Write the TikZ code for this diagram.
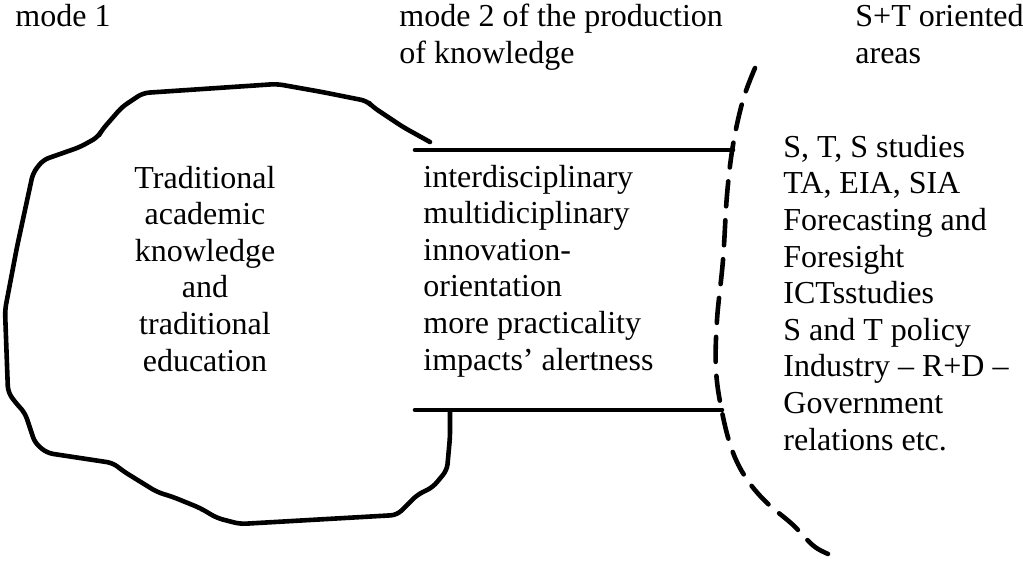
\documentclass[tikz,border=0pt]{standalone}
\usepackage{fontspec}
\setmainfont{Liberation Serif}
\usetikzlibrary{positioning}
\tikzset{
  txt/.style={inner sep=0pt, align=left, anchor=base west, font=\fontsize{16}{18.3}\selectfont},
  ctxt/.style={txt, align=center, anchor=base},
  bar/.style={line width=2.3pt, line cap=round, line join=round},
  border/.style={bar, dash pattern=on 12.5pt off 7pt}
}

\begin{document}
\begin{tikzpicture}[x=0.5pt,y=-0.5pt]
  \useasboundingbox (0,0) rectangle (1023,562);
  % headings (base = last line)
  \node[txt] (mone) at (15,26) {mode 1};
  \node[txt] (mtwo) at (399,63) {mode 2 of the production\\of knowledge};
  \node[txt] (areas) at (855,63) {S+T oriented\\areas};
  % mode 1 blob
  \coordinate (bstart) at (430,142);
  \coordinate (bend) at (450,412);
  \draw[bar, rounded corners=3pt] (bstart) -- (403,127) -- (373,107) -- (367,101) -- (322,92) -- (277,84)
    -- (143,93) -- (122,107) -- (102,130) -- (98,137) -- (80,147) -- (43,160) -- (33,173)
    -- (17,247) -- (5,310) -- (8,392) -- (15,402) -- (25,413) -- (35,443) -- (47,453)
    -- (113,463) -- (123,471) -- (157,492) -- (173,497) -- (200,508) -- (217,518) -- (240,524)
    -- (397,515) -- (405,507) -- (417,495) -- (433,487) -- (447,470) -- (450,437) -- (bend);
  \node[ctxt] (trad) at (205,371) {Traditional\\academic\\knowledge\\and\\traditional\\education};
  % mode 2 channel
  \coordinate (tl) at (415,150);
  \coordinate (tr) at (733,150);
  \coordinate (bl) at (415,410);
  \coordinate (br) at (722,410);
  \draw[bar] (tl) -- (tr);
  \draw[bar] (bl) -- (br);
  \node[txt] (modetwo) at (423,370) {interdisciplinary\\multidiciplinary\\innovation-\\orientation\\more practicality\\impacts' alertness};
  % S+T border
  \draw[border] plot[smooth, tension=0.6] coordinates {(755,68) (743,100) (733,145) (727,195) (723,260)
    (717,320) (716,370) (722,412) (732,450) (746,478) (766,502) (792,524) (815,547) (836,557)};
  \node[txt] (st) at (783,450) {S, T, S studies\\TA, EIA, SIA\\Forecasting and\\Foresight\\ICTsstudies\\S and T policy\\Industry -- R+D --\\Government\\relations etc.};
\end{tikzpicture}
\end{document}
